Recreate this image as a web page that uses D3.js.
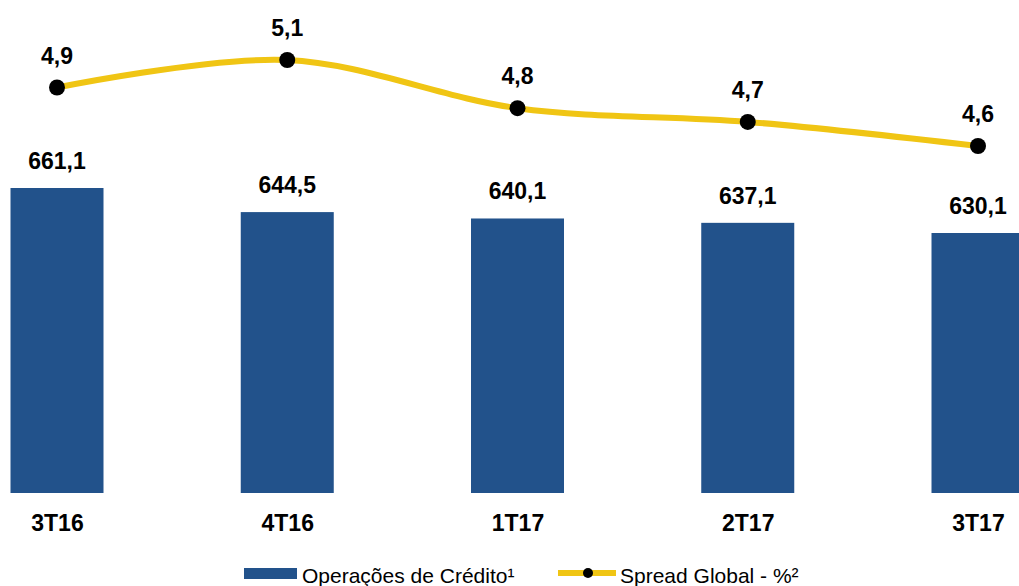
<!DOCTYPE html>
<html>
<head>
<meta charset="utf-8">
<script src="https://cdn.jsdelivr.net/npm/d3@7"></script>
<style>
  body { margin: 0; background: #fff; }
  svg { display: block; font-family: "Liberation Sans", Arial, sans-serif; }
</style>
</head>
<body>
<svg width="1019" height="586"></svg>
<script>
// trimestres
var categorias = ["3T16", "4T16", "1T17", "2T17", "3T17"];
// operações de crédito (barras)
var operacoes = [661.1, 644.5, 640.1, 637.1, 630.1];
// spread global (linha)
var spread = [4.94, 5.1, 4.82, 4.74, 4.6];

var svg = d3.select("svg");
var fmt = function(v, casas) {
  return d3.format("." + casas + "f")(v).replace(".", ",");
};

// centros das categorias
var xScale = d3.scalePoint().domain(categorias).range([57, 978]);
var barW = 93;

// escala das barras (não começa em zero, como no original)
var yBar = d3.scaleLinear().domain([451, 661.1]).range([493, 188]);
// escala da linha
var yLine = d3.scaleLinear().domain([4.6, 5.1]).range([146, 60]);

// barras
svg.selectAll("rect.bar")
  .data(operacoes)
  .enter()
  .append("rect")
  .attr("class", "bar")
  .attr("x", function(d, i) { return xScale(categorias[i]) - barW / 2; })
  .attr("y", function(d) { return yBar(d); })
  .attr("width", barW)
  .attr("height", function(d) { return yBar.range()[0] - yBar(d); })
  .style("fill", "#22528b");

svg.selectAll("text.barLabel")
  .data(operacoes)
  .enter()
  .append("text")
  .attr("class", "barLabel")
  .attr("x", function(d, i) { return xScale(categorias[i]); })
  .attr("y", function(d) { return yBar(d) - 19; })
  .attr("text-anchor", "middle")
  .style("font-size", "23px")
  .style("font-weight", "bold")
  .text(function(d) { return fmt(d, 1); });

// eixo x (só os rótulos)
var xAxis = d3.axisBottom(xScale).tickSize(0).tickPadding(0);
var xAxisG = svg.append("g")
  .attr("transform", "translate(0,515)")
  .call(xAxis);
xAxisG.select(".domain").remove();
xAxisG.selectAll("text")
  .attr("dy", "0.71em")
  .style("font-family", "Liberation Sans, Arial, sans-serif")
  .style("font-size", "23px")
  .style("font-weight", "bold")
  .style("fill", "#000");

// linha suavizada
var spreadLine = d3.line()
  .x(function(d, i) { return xScale(categorias[i]); })
  .y(function(d) { return yLine(d); })
  .curve(d3.curveCardinal);

svg.append("path")
  .attr("d", spreadLine(spread))
  .attr("fill", "none")
  .attr("stroke", "#f0c514")
  .attr("stroke-width", 6);

svg.selectAll("circle.spread")
  .data(spread)
  .enter()
  .append("circle")
  .attr("class", "spread")
  .attr("r", 8)
  .attr("cx", function(d, i) { return xScale(categorias[i]); })
  .attr("cy", function(d) { return yLine(d); })
  .style("fill", "#000");

svg.selectAll("text.lineLabel")
  .data(spread)
  .enter()
  .append("text")
  .attr("class", "lineLabel")
  .attr("x", function(d, i) { return xScale(categorias[i]); })
  .attr("y", function(d) { return yLine(d) - 24; })
  .attr("text-anchor", "middle")
  .style("font-size", "23px")
  .style("font-weight", "bold")
  .text(function(d) { return fmt(d, 1); });

// legenda
var legend = svg.append("g");
legend.append("rect")
  .attr("x", 244).attr("y", 568)
  .attr("width", 53).attr("height", 11)
  .style("fill", "#22528b");
legend.append("text")
  .attr("x", 302).attr("y", 583)
  .style("font-size", "21px")
  .text("Operações de Crédito¹");

legend.append("line")
  .attr("x1", 558).attr("x2", 616)
  .attr("y1", 573).attr("y2", 573)
  .attr("stroke", "#f0c514")
  .attr("stroke-width", 6);
legend.append("circle")
  .attr("cx", 588).attr("cy", 573).attr("r", 5)
  .style("fill", "#000");
legend.append("text")
  .attr("x", 620).attr("y", 583)
  .style("font-size", "21px")
  .text("Spread Global - %²");
</script>
</body>
</html>
